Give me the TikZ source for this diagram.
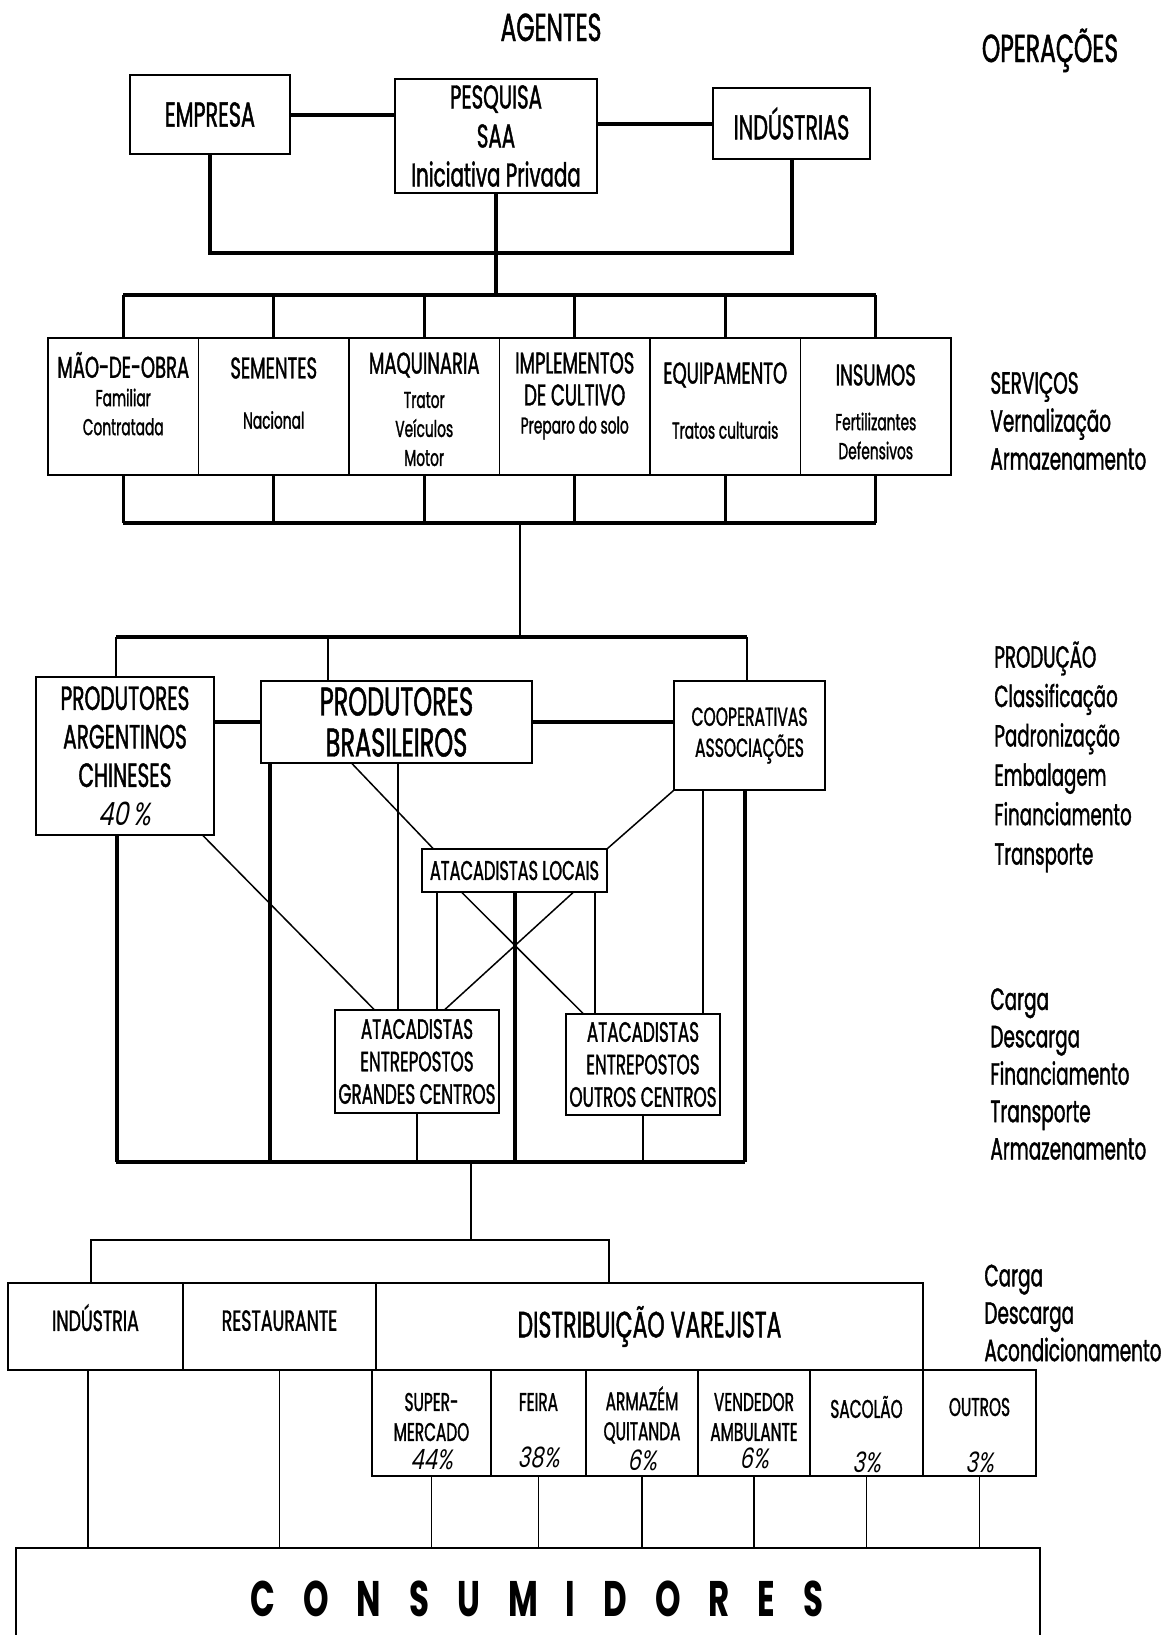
\documentclass[tikz,border=0pt]{standalone}
\usepackage{fontspec}
\setmainfont{Poppins}[FakeStretch=0.6,FakeBold=1.2]
\newfontfamily\pctfont{Poppins}[FakeStretch=0.75,FakeSlant=0.2]
\newfontfamily\consfont{Poppins}[FakeStretch=0.65]

\newcommand\fCab{\fontsize{19.5}{21}\selectfont}
\newcommand\fTit{\fontsize{17.3}{19.5}\selectfont}
\newcommand\fPes{\fontsize{16.5}{19.5}\selectfont}
\newcommand\fSec{\fontsize{15}{16}\selectfont}
\newcommand\fSub{\fontsize{11.5}{14.5}\selectfont}
\newcommand\fProd{\fontsize{16.8}{19.25}\selectfont}
\newcommand\fBras{\fontsize{20}{20.5}\selectfont}
\newcommand\fAtac{\fontsize{14}{16.25}\selectfont}
\newcommand\fLoc{\fontsize{13.5}{16}\selectfont}
\newcommand\fCoop{\fontsize{13}{15.5}\selectfont}
\newcommand\fVar{\fontsize{12.8}{15}\selectfont}
\newcommand\fDist{\fontsize{18.3}{20}\selectfont}
\newcommand\fInd{\fontsize{14.5}{16}\selectfont}
\newcommand\esp{\hspace{14pt}}

\tikzset{
  caixa/.style={draw,line width=0.6pt,inner sep=0pt,align=center},
  tam/.style 2 args={minimum width=#1*0.5pt,minimum height=#2*0.5pt},
  rot/.style={inner sep=0pt,align=center},
  lado/.style={inner sep=0pt,align=left,anchor=west},
  pct/.style={inner sep=0pt,font=\pctfont\fontsize{14}{14}\selectfont},
  grosso/.style={line width=2pt},
  medio/.style={line width=1.3pt},
  fino/.style={line width=0.75pt},
}

\begin{document}
\begin{tikzpicture}[x=0.5pt,y=-0.5pt]
        \fill[white] (0,0) rectangle (1167,1635);
        \useasboundingbox (0,0) rectangle (1167,1635);

        %------------------
        % titulos
        %------------------
        \node[rot,anchor=base,font=\fCab] (agentes) at (551,41) {AGENTES};
        \node[rot,anchor=base,font=\fCab] (operacoes) at (1050,62) {OPERAÇÕES};

        %------------------
        % agentes
        %------------------
        \node[caixa,tam={160}{79},font=\fTit] (emp) at (210,114.5) {EMPRESA};
        \node[caixa,tam={202}{114},font=\fPes] (pes) at (496,136) {PESQUISA\\SAA\\Iniciativa Privada};
        \node[caixa,tam={157}{71},font=\fTit] (ind) at (791.5,123.5) {INDÚSTRIAS};

        \coordinate (b1) at (496,253);
        \coordinate (b2) at (496,295);
        \draw[grosso] (emp.east) -- (emp.east -| pes.west);
        \draw[grosso] (pes.east |- ind.west) -- (ind.west);
        \draw[grosso] (emp.south) |- (b1) -| (ind.south);
        \draw[grosso] (pes.south) -- (b2);

        %------------------
        % servicos
        %------------------
        \foreach \i in {1,...,6}
          \node[caixa,tam={150.5}{137}] (s\i) at ({123.25+150.5*(\i-1)},406.5) {};

        \node[rot,font=\fSec] (s1a) at (s1 |- 0,365) {MÃO-DE-OBRA};
        \node[rot,font=\fSub] (s1b) at (s1 |- 0,412) {Familiar\\Contratada};
        \node[rot,font=\fSec] (s2a) at (s2 |- 0,368) {SEMENTES};
        \node[rot,font=\fSub] (s2b) at (s2 |- 0,420) {Nacional};
        \node[rot,font=\fSec] (s3a) at (s3 |- 0,365) {MAQUINARIA};
        \node[rot,font=\fSub] (s3b) at (s3 |- 0,429) {Trator\\Veículos\\Motor};
        \node[rot,font=\fSec] (s4a) at (s4 |- 0,379) {IMPLEMENTOS\\DE CULTIVO};
        \node[rot,font=\fSub] (s4b) at (s4 |- 0,428) {Preparo do solo};
        \node[rot,font=\fSec] (s5a) at (s5 |- 0,375) {EQUIPAMENTO};
        \node[rot,font=\fSub] (s5b) at (s5 |- 0,430) {Tratos culturais};
        \node[rot,font=\fSec] (s6a) at (s6 |- 0,375) {INSUMOS};
        \node[rot,font=\fSub] (s6b) at (s6 |- 0,436) {Fertilizantes\\Defensivos};

        \coordinate (b3) at (520,523);
        \coordinate (b4) at (520,637);
        \draw[grosso] (s1.north |- b2) -- (s6.north |- b2);
        \draw[grosso] (s1.south |- b3) -- (s6.south |- b3);
        \foreach \i in {1,...,6} {
          \draw[medio] (s\i.north |- b2) -- (s\i.north);
          \draw[medio] (s\i.south) -- (s\i.south |- b3);
        }
        \draw[medio] (b3) -- (b4);

        %------------------
        % producao
        %------------------
        \node[caixa,tam={178}{158},font=\fProd] (arg) at (125,756)
          {PRODUTORES\\ARGENTINOS\\CHINESES\\{\pctfont\fontsize{16}{19.25}\selectfont 40\hspace{2pt}\%}};
        \node[caixa,tam={271}{82},font=\fBras] (bra) at (396.5,722) {PRODUTORES\\BRASILEIROS};
        \node[caixa,tam={151}{109},font=\fCoop] (coop) at (749.5,735.5) {COOPERATIVAS\\ASSOCIAÇÕES};
        \node[caixa,tam={185}{43},font=\fLoc] (loc) at (514.5,870.5) {ATACADISTAS LOCAIS};
        \node[caixa,tam={164}{103},font=\fAtac] (gra) at (417,1061.5) {ATACADISTAS\\ENTREPOSTOS\\GRANDES CENTROS};
        \node[caixa,tam={154}{101},font=\fAtac] (out) at (643,1064.5) {ATACADISTAS\\ENTREPOSTOS\\OUTROS CENTROS};

        \draw[grosso] (b4 -| 116,0) -- (b4 -| 747,0);
        \draw[medio] (b4 -| 116,0) -- (arg.north -| 116,0);
        \draw[medio] (b4 -| 328,0) -- (bra.north -| 328,0);
        \draw[medio] (b4 -| 747,0) -- (coop.north -| 747,0);
        \draw[grosso] (bra.west -| arg.east) -- (bra.west);
        \draw[grosso] (bra.east) -- (bra.east -| coop.west);

        % ligacoes finas
        \draw[fino] (bra.south -| 352,0) -- (loc.north -| 433,0);
        \draw[fino] (coop.south west) -- (loc.north east);
        \draw[fino] (arg.south -| 203,0) -- (gra.north -| 374,0);
        \draw[fino] (bra.south -| 398,0) -- (gra.north -| 398,0);
        \draw[fino] (loc.south -| 437,0) -- (gra.north -| 437,0);
        \draw[fino] (loc.south -| 462,0) -- (out.north -| 583,0);
        \draw[fino] (loc.south -| 573,0) -- (gra.north -| 445,0);
        \draw[fino] (loc.south -| 595,0) -- (out.north -| 595,0);
        \draw[fino] (coop.south -| 703,0) -- (out.north -| 703,0);

        % barra de baixo
        \coordinate (b5) at (471,1162);
        \draw[grosso] (b5 -| 116,0) -- (b5 -| 745,0);
        \draw[grosso] (arg.south -| 117,0) -- (b5 -| 117,0);
        \draw[grosso] (bra.south -| 270,0) -- (b5 -| 270,0);
        \draw[grosso] (loc.south) -- (loc.south |- b5);
        \draw[grosso] (coop.south -| 745,0) -- (b5 -| 745,0);
        \draw[medio] (gra.south) -- (gra.south |- b5);
        \draw[medio] (out.south) -- (out.south |- b5);

        %------------------
        % distribuicao
        %------------------
        \node[caixa,tam={175}{87},font=\fInd,text depth=9pt] (indu) at (95.5,1326.5) {INDÚSTRIA};
        \node[caixa,tam={193}{87},font=\fInd,text depth=6pt] (rest) at (279.5,1326.5) {RESTAURANTE};
        \node[caixa,tam={547}{87},font=\fDist] (dist) at (649.5,1326.5) {DISTRIBUIÇÃO VAREJISTA};

        \foreach \i/\cx/\w in {1/431.5/119,2/538.5/95,3/642/112,4/754/112,5/866.5/113,6/979.5/113}
          \node[caixa,tam={\w}{106}] (v\i) at (\cx,1423) {};

        \node[rot,font=\fVar] (v1a) at (v1 |- 0,1417) {SUPER-\\MERCADO};
        \node[pct] (v1b) at (v1 |- 0,1460) {44\%};
        \node[rot,font=\fVar] (v2a) at (v2 |- 0,1402) {FEIRA};
        \node[pct] (v2b) at (v2 |- 0,1457) {38\%};
        \node[rot,font=\fVar] (v3a) at (v3 |- 0,1415) {ARMAZÉM\\QUITANDA};
        \node[pct] (v3b) at (v3 |- 0,1460) {6\%};
        \node[rot,font=\fVar] (v4a) at (v4 |- 0,1417) {VENDEDOR\\AMBULANTE};
        \node[pct] (v4b) at (v4 |- 0,1458) {6\%};
        \node[rot,font=\fVar] (v5a) at (v5 |- 0,1407) {SACOLÃO};
        \node[pct] (v5b) at (v5 |- 0,1462) {3\%};
        \node[rot,font=\fVar] (v6a) at (v6 |- 0,1407) {OUTROS};
        \node[pct] (v6b) at (v6 |- 0,1462) {3\%};

        \node[caixa,tam={1024}{97}] (cons) at (528,1596.5) {};
        \node[rot,font=\consfont\bfseries\fontsize{25}{28}\selectfont] (consT) at (537,1599)
          {C\esp O\esp N\esp S\esp U\esp M\esp I\esp D\esp O\esp R\esp E\esp S};

        \coordinate (b6) at (471,1240);
        \draw[fino] (b5) -- (b6);
        \draw[fino] (indu.north -| 91,0) |- (b6) -| (dist.north -| 609,0);
        \draw[fino] (indu.south -| 88,0) -- (cons.north -| 88,0);
        \draw[fino] (rest.south) -- (rest.south |- cons.north);
        \foreach \i in {1,...,6}
          \draw[fino] (v\i.south) -- (v\i.south |- cons.north);

        %------------------
        % operacoes
        %------------------
        \node[lado,font=\fontsize{15.4}{19}\selectfont] (op1) at (990,421)
          {SERVIÇOS\\Vernalização\\Armazenamento};
        \node[lado,font=\fontsize{15.2}{19.7}\selectfont] (op2) at (994,757)
          {PRODUÇÃO\\Classificação\\Padronização\\Embalagem\\Financiamento\\Transporte};
        \node[lado,font=\fontsize{15.4}{18.7}\selectfont] (op3) at (990,1074)
          {Carga\\Descarga\\Financiamento\\Transporte\\Armazenamento};
        \node[lado,font=\fontsize{15.4}{18.7}\selectfont] (op4) at (984,1313)
          {Carga\\Descarga\\Acondicionamento};
      \end{tikzpicture}
\end{document}
